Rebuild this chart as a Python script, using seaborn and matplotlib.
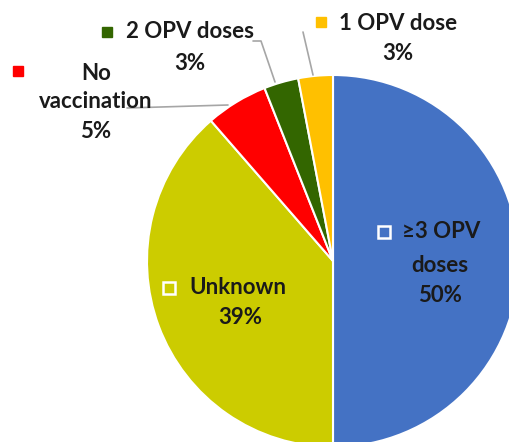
import matplotlib
matplotlib.use("Agg")
import matplotlib.pyplot as plt
import seaborn as sns

# data
categories = ["≥3 OPV doses", "Unknown", "No vaccination", "2 OPV doses", "1 OPV dose"]
shares = [50.0, 38.6, 5.4, 3.0, 3.0]
colors = ["#4472C4", "#CCCC00", "#FF0000", "#336600", "#FFC000"]

sns.set_theme(style="white")
plt.rcParams["font.family"] = ["Lato", "DejaVu Sans"]

W, H = 509, 442
fig = plt.figure(figsize=(W / 100, H / 100), dpi=100)
ax = fig.add_axes([0, 0, 1, 1])

# pie centre / radius in pixels (top-left origin)
cx, cy, r = 333, 261, 186
ax.pie(shares, colors=colors, startangle=90, counterclock=False,
       radius=r, center=(cx, H - cy),
       wedgeprops=dict(edgecolor="white", linewidth=1.5))
ax.set_xlim(0, W)
ax.set_ylim(0, H)
ax.set_aspect("equal")
ax.axis("off")


def py(y):
    return H - y


txt = dict(fontsize=16, fontweight="bold", color="#1a1a1a", va="center")
lead = "#A6A6A6"

pct = [f"{round(v)}%" for v in shares]

# ≥3 OPV doses (inside)
ax.plot(384, py(232), marker="s", ms=8, mfc="none", mec="white", mew=1.8)
ax.text(402, py(232), "≥3 OPV", ha="left", **txt)
ax.text(440, py(266), "doses", ha="center", **txt)
ax.text(440, py(296), pct[0], ha="center", **txt)

# Unknown (inside)
ax.plot(169, py(288), marker="s", ms=8, mfc="none", mec="white", mew=1.8)
ax.text(189, py(288), categories[1], ha="left", **txt)
ax.text(240, py(318), pct[1], ha="center", **txt)

# No vaccination
ax.plot([127, 228], [py(108), py(105)], color=lead, lw=1.2)
ax.plot(18, py(71), marker="s", ms=7, color=colors[2])
ax.text(96, py(73), "No", ha="center", **txt)
ax.text(96, py(101), "vaccination", ha="center", **txt)
ax.text(96, py(131), pct[2], ha="center", **txt)

# 2 OPV doses
ax.plot([253, 261, 275], [py(41), py(41), py(82)], color=lead, lw=1.2)
ax.plot(107, py(32), marker="s", ms=7, color=colors[3])
ax.text(126, py(32), categories[3], ha="left", **txt)
ax.text(190, py(63), pct[3], ha="center", **txt)

# 1 OPV dose
ax.plot([303, 313], [py(32), py(75)], color=lead, lw=1.2)
ax.plot(321, py(22), marker="s", ms=7, color=colors[4])
ax.text(339, py(24), categories[4], ha="left", **txt)
ax.text(398, py(54), pct[4], ha="center", **txt)

fig.savefig("out.png", dpi=100)
